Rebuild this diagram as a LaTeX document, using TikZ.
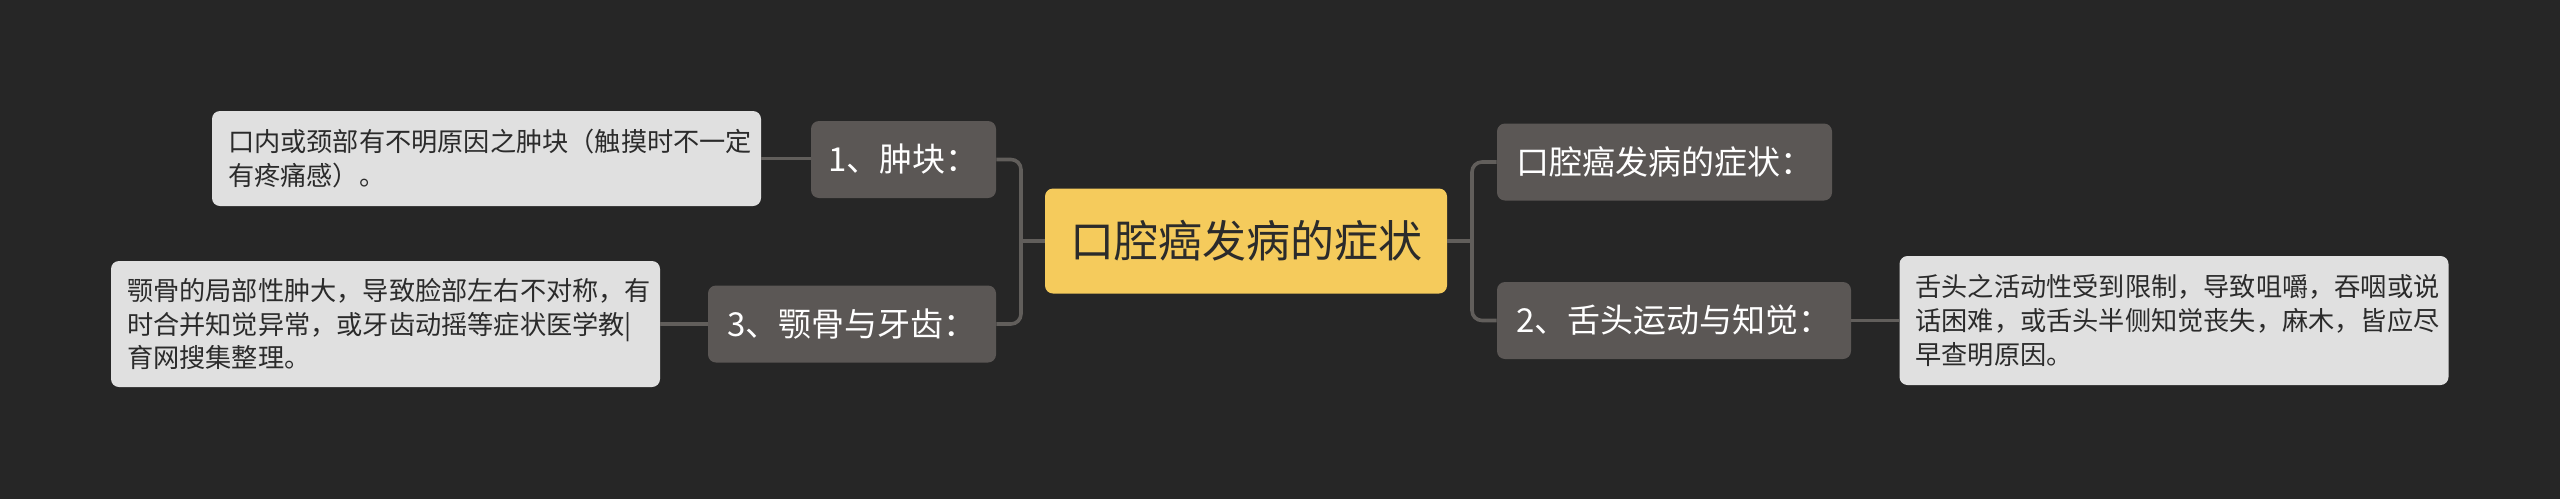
\documentclass[tikz,border=0pt]{standalone}
\usepackage{fontspec}
\setmainfont{Noto Sans CJK SC}
\usepackage{xcolor}
\usepackage{tikz}

\definecolor{bgcol}{HTML}{262626}
\definecolor{rootcol}{HTML}{F5CB5C}
\definecolor{topiccol}{HTML}{5B5755}
\definecolor{leafcol}{HTML}{E0E0E0}
\definecolor{linecol}{HTML}{615E5B}
\definecolor{inkcol}{HTML}{2B2B2B}

\begin{document}
\begin{tikzpicture}[x=0.5pt,y=-0.5pt]
\tikzstyle{root} = [fill=rootcol, text=inkcol, rounded corners=4pt, inner sep=0pt,
	font=\fontsize{22}{26}\selectfont, minimum width=201pt, minimum height=52.5pt]
\tikzstyle{topic} = [fill=topiccol, text=white, rounded corners=4pt, inner sep=0pt,
	font=\fontsize{16.5}{20}\selectfont, minimum height=38.5pt]
\tikzstyle{leaf} = [fill=leafcol, text=inkcol, rounded corners=4pt, inner xsep=8pt, inner ysep=0pt,
	text width=258.5pt, align=left, font=\fontsize{13.1}{16.8}\selectfont, minimum width=274.5pt]
\tikzstyle{branch} = [draw=linecol, line width=1.8pt, rounded corners=5pt]
%
	\fill[bgcol] (0,0) rectangle (2560,499);

	\node[root] (root) at (1246,241) {口腔癌发病的症状};

	% left side
	\node[topic, minimum width=92.5pt] (t1) at (903.5,159.5) {1、肿块：};
	\node[topic, minimum width=144pt] (t3) at (852,324) {3、颚骨与牙齿：};
	\node[leaf, minimum height=47.5pt] (l1) at (486.5,158.5)
		{口内或颈部有不明原因之肿块（触摸时不一定\\有疼痛感）。};
	\node[leaf, minimum height=63pt] (l3) at (385.5,324)
		{颚骨的局部性肿大，导致脸部左右不对称，有\\时合并知觉异常，或牙齿动摇等症状医学教|\\育网搜集整理。};

	% right side
	\node[topic, minimum width=167.5pt] (t0) at (1664.5,162) {口腔癌发病的症状：};
	\node[topic, minimum width=177pt] (t2) at (1674,320.5) {2、舌头运动与知觉：};
	\node[leaf, minimum height=64.5pt] (l2) at (2174,320.5)
		{舌头之活动性受到限制，导致咀嚼，吞咽或说\\话困难，或舌头半侧知觉丧失，麻木，皆应尽\\早查明原因。};

	\coordinate (jl) at (1021,241);
	\coordinate (jr) at (1472,241);

	\draw[branch] (root.west) -- (jl);
	\draw[branch] (t1.east) -| (jl);
	\draw[branch] (t3.east) -| (jl);
	\draw[branch] (root.east) -- (jr);
	\draw[branch] (t0.west) -| (jr);
	\draw[branch] (t2.west) -| (jr);

	\draw[branch] (l1.east) -- (l1.east -| t1.west);
	\draw[branch] (l3.east) -- (t3.west);
	\draw[branch] (t2.east) -- (l2.west);
\end{tikzpicture}
\end{document}
